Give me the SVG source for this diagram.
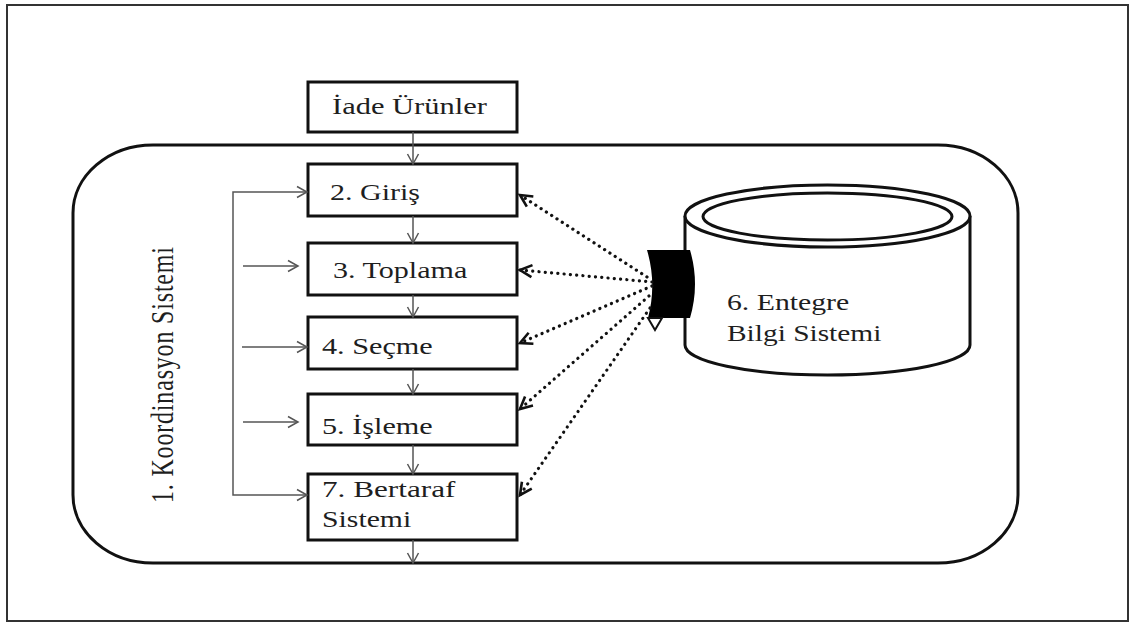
<svg xmlns="http://www.w3.org/2000/svg" width="1135" height="624" viewBox="0 0 1135 624">
  <style>
    .box { fill: #fff; stroke: #111; stroke-width: 3; }
    .lbl { font-family: "Liberation Serif", "Times New Roman", serif; font-size: 24px; fill: #1e1e1e; }
    .flow { fill: none; stroke: #555; stroke-width: 1.5; }
    .data { fill: none; stroke: #111; stroke-width: 3.2; stroke-dasharray: 0.1 6.2; stroke-linecap: round; }
  </style>
  <defs>
    <marker id="ah" markerUnits="userSpaceOnUse" markerWidth="14" markerHeight="14" refX="11" refY="7" orient="auto">
      <path d="M1,1.5 L11,7 L1,12.5" fill="none" stroke="#555" stroke-width="1.5"/>
    </marker>
    <marker id="ahd" markerUnits="userSpaceOnUse" markerWidth="18" markerHeight="18" refX="14" refY="9" orient="auto">
      <path d="M2,3 L14,9 L2,15" fill="none" stroke="#111" stroke-width="2.6"/>
    </marker>
  </defs>

  <rect width="1135" height="624" fill="#fff"/>
  <!-- page frame -->
  <rect x="7" y="5" width="1121" height="616" fill="none" stroke="#333" stroke-width="2"/>

  <!-- coordination system container -->
  <g id="koordinasyon">
    <rect x="73" y="145" width="945" height="418" rx="80" ry="68" fill="none" stroke="#111" stroke-width="3"/>
    <text class="lbl" font-size="28" transform="translate(173,503) scale(1.3,1) rotate(-90)" textLength="256">1. Koordinasyon Sistemi</text>
  </g>

  <g id="iade">
    <rect class="box" x="308" y="82" width="209" height="50"/>
    <text class="lbl" transform="translate(332,114) scale(1.27,1)">İade Ürünler</text>
  </g>
  <g id="giris">
    <rect class="box" x="308" y="164" width="209" height="52"/>
    <text class="lbl" transform="translate(330,200) scale(1.25,1)">2. Giriş</text>
  </g>
  <g id="toplama">
    <rect class="box" x="308" y="243" width="209" height="52"/>
    <text class="lbl" transform="translate(333,278) scale(1.253,1)">3. Toplama</text>
  </g>
  <g id="secme">
    <rect class="box" x="308" y="317" width="209" height="52"/>
    <text class="lbl" transform="translate(322,354) scale(1.26,1)">4. Seçme</text>
  </g>
  <g id="isleme">
    <rect class="box" x="308" y="394" width="209" height="51"/>
    <text class="lbl" transform="translate(322,434) scale(1.26,1)">5. İşleme</text>
  </g>
  <g id="bertaraf">
    <rect class="box" x="308" y="474" width="209" height="66"/>
    <text class="lbl" transform="translate(322,497) scale(1.3,1)">7. Bertaraf</text>
    <text class="lbl" transform="translate(322,527) scale(1.24,1)">Sistemi</text>
  </g>

  <!-- integrated information system drum -->
  <g id="entegre">
    <path d="M685,216 L685,345 A142.5,30 0 0 0 970,345 L970,216" fill="#fff" stroke="#111" stroke-width="3"/>
    <ellipse cx="827.5" cy="216" rx="142.5" ry="31" fill="#fff" stroke="#111" stroke-width="3"/>
    <ellipse cx="827.5" cy="216.5" rx="124.5" ry="23.5" fill="none" stroke="#111" stroke-width="3"/>
    <!-- interface tab -->
    <path d="M647,250 L690,250 Q700,284 690,318 L648,318 Q657,284 647,250 Z" fill="#000"/>
    <path d="M648,318 L662,318 L655,330 Z" fill="#fff" stroke="#111" stroke-width="2"/>
    <text class="lbl" font-size="25" transform="translate(727,310) scale(1.24,1)">6. Entegre</text>
    <text class="lbl" font-size="25" transform="translate(727,341) scale(1.225,1)">Bilgi Sistemi</text>
  </g>

  <g id="connectors">
    <!-- main flow -->
    <line class="flow" x1="413" y1="132" x2="413" y2="164" marker-end="url(#ah)"/>
    <line class="flow" x1="413" y1="216" x2="413" y2="243" marker-end="url(#ah)"/>
    <line class="flow" x1="413" y1="295" x2="413" y2="317" marker-end="url(#ah)"/>
    <line class="flow" x1="413" y1="369" x2="413" y2="394" marker-end="url(#ah)"/>
    <line class="flow" x1="413" y1="445" x2="413" y2="474" marker-end="url(#ah)"/>
    <line class="flow" x1="413" y1="540" x2="413" y2="563" marker-end="url(#ah)"/>
    <!-- coordination feedback -->
    <path class="flow" d="M233,344 V192 H307" marker-end="url(#ah)"/>
    <path class="flow" d="M233,344 V495 H307" marker-end="url(#ah)"/>
    <line class="flow" x1="243" y1="266" x2="298" y2="266" marker-end="url(#ah)"/>
    <line class="flow" x1="242" y1="347" x2="307" y2="347" marker-end="url(#ah)"/>
    <line class="flow" x1="243" y1="422" x2="298" y2="422" marker-end="url(#ah)"/>
    <!-- data links -->
    <line class="data" x1="647" y1="277" x2="520" y2="195" marker-end="url(#ahd)"/>
    <line class="data" x1="652" y1="282" x2="520" y2="270" marker-end="url(#ahd)"/>
    <line class="data" x1="652" y1="286" x2="520" y2="343" marker-end="url(#ahd)"/>
    <line class="data" x1="649" y1="296" x2="520" y2="409" marker-end="url(#ahd)"/>
    <line class="data" x1="650" y1="308" x2="520" y2="495" marker-end="url(#ahd)"/>
  </g>
</svg>
